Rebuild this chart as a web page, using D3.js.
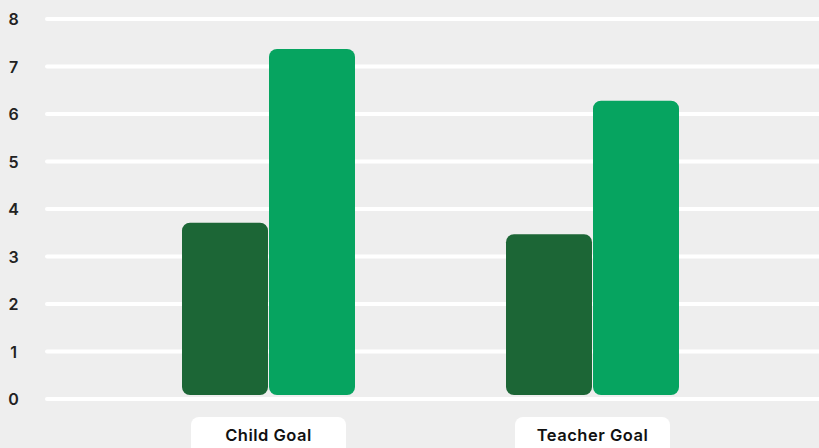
<!DOCTYPE html>
<html>
<head>
<meta charset="utf-8">
<script src="https://cdn.jsdelivr.net/npm/d3@7"></script>
<style>
  html, body { margin: 0; padding: 0; background: #eeeeee; }
  svg { display: block; }
</style>
</head>
<body>
<svg id="chart" width="819" height="448"></svg>
<script>
// Goal categories and the two series drawn side by side in each group
const categories = ["Child Goal", "Teacher Goal"];
const seriesNames = ["Before", "After"];
const beforeValues = [3.71, 3.47];
const afterValues = [7.37, 6.28];
const tickValues = [0, 1, 2, 3, 4, 5, 6, 7, 8];
const seriesColors = ["#1c6636", "#06a460"];

const width = 819, height = 448;
const fontStack = "Inter, 'Noto Sans', 'DejaVu Sans', sans-serif";
const svg = d3.select("#chart");

svg.append("rect")
  .attr("width", width).attr("height", height)
  .attr("fill", "#eeeeee");

const y = d3.scaleLinear().domain([0, 8]).range([399, 19]);

const x0 = d3.scaleBand()
  .domain(categories)
  .range([106.5, 754.5])
  .paddingInner(0)
  .paddingOuter(0);

const x1 = d3.scaleBand()
  .domain(seriesNames)
  .range([0, 174])
  .padding(0);

// Horizontal grid lines
svg.append("g")
  .selectAll("line")
  .data(tickValues)
  .join("line")
  .attr("x1", 47).attr("x2", width + 4)
  .attr("y1", d => y(d)).attr("y2", d => y(d))
  .attr("stroke", "#ffffff")
  .attr("stroke-width", 4)
  .attr("stroke-linecap", "round");

// Y axis labels
const yAxis = d3.axisLeft(y).tickValues(tickValues).tickSize(0).tickPadding(0);
const yg = svg.append("g").attr("transform", "translate(20,0)").call(yAxis);
yg.select(".domain").remove();
yg.selectAll("text")
  .attr("font-family", fontStack)
  .attr("font-weight", 600)
  .attr("font-size", 16)
  .attr("fill", "#222222")
  .attr("text-anchor", "middle")
  .attr("x", -6.5)
  .attr("dy", "0.36em");

// Bars
const rows = categories.map((c, i) => ({
  cat: c,
  vals: [
    { s: seriesNames[0], v: beforeValues[i], color: seriesColors[0] },
    { s: seriesNames[1], v: afterValues[i], color: seriesColors[1] }
  ]
}));

const barBottom = y(0) - 4;
const groups = svg.append("g")
  .selectAll("g")
  .data(rows)
  .join("g")
  .attr("transform", d => `translate(${x0(d.cat) + (x0.bandwidth() - 174) / 2},0)`);

groups.selectAll("rect")
  .data(d => d.vals)
  .join("rect")
  .attr("x", d => x1(d.s) + 0.5)
  .attr("width", x1.bandwidth() - 1)
  .attr("y", d => y(d.v))
  .attr("height", d => barBottom - y(d.v))
  .attr("rx", 8).attr("ry", 8)
  .attr("fill", d => d.color);

// Category labels in white pills
const labelG = svg.append("g")
  .selectAll("g")
  .data(categories)
  .join("g")
  .attr("transform", d => `translate(${x0(d) + x0.bandwidth() / 2},0)`);

labelG.append("rect")
  .attr("x", -77.5).attr("width", 155)
  .attr("y", 417).attr("height", 40)
  .attr("rx", 8).attr("ry", 8)
  .attr("fill", "#ffffff");

labelG.append("text")
  .attr("text-anchor", "middle")
  .attr("y", 441)
  .attr("font-family", fontStack)
  .attr("font-weight", 600)
  .attr("font-size", 16.5)
  .attr("letter-spacing", 0.5)
  .attr("fill", "#111111")
  .text(d => d);
</script>
</body>
</html>
